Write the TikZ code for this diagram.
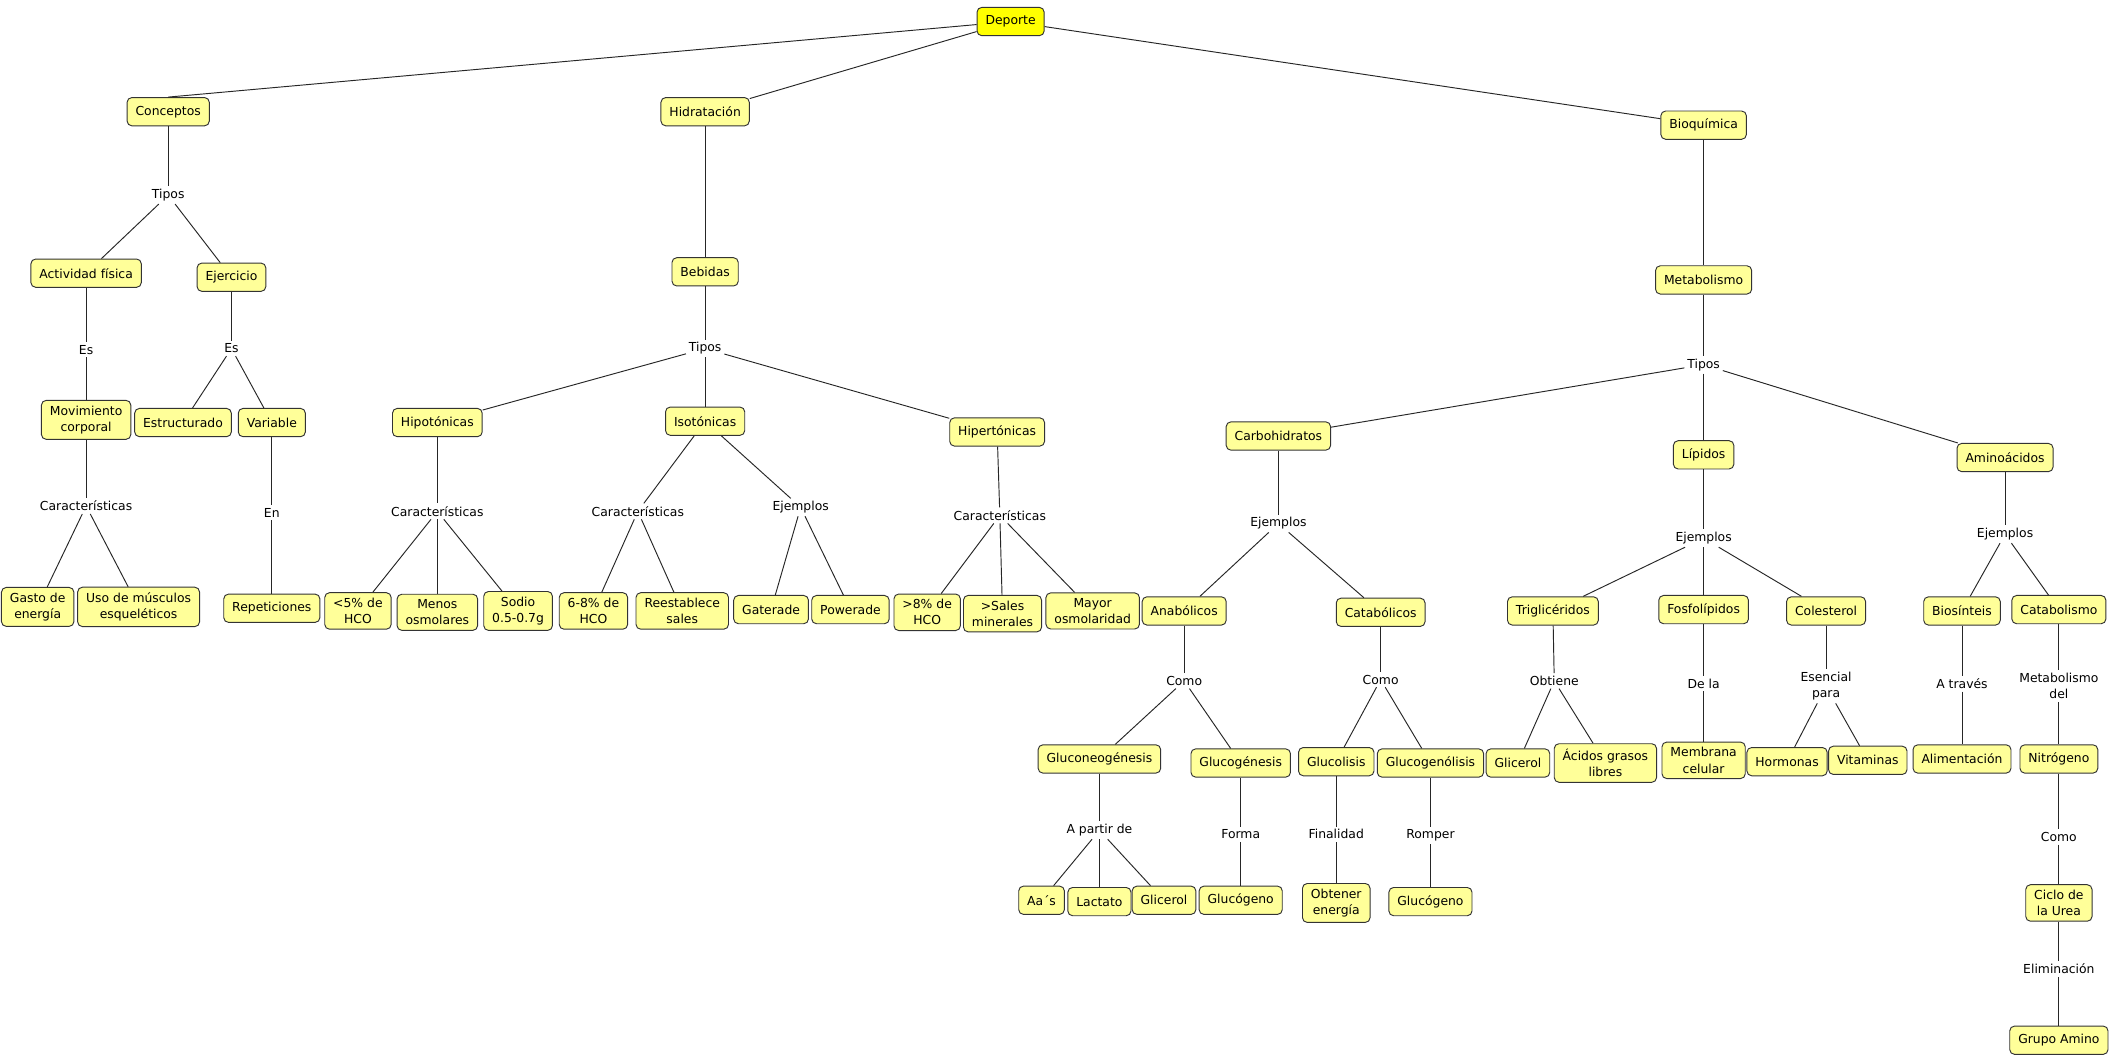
\documentclass[tikz,border=0pt]{standalone}
\usepackage{fontspec}
\setmainfont{DejaVu Sans}
\definecolor{boxfill}{HTML}{FFFF99}
\definecolor{rootfill}{HTML}{FFFF00}
\definecolor{boxline}{HTML}{333333}
\tikzset{
  box/.style={draw=boxline, fill=boxfill, rounded corners=3.5pt, line width=0.7pt,
    font=\fontsize{9.2}{12}\selectfont, align=center, inner xsep=6.3pt, inner ysep=4pt, minimum height=21pt},
  rootbox/.style={box, fill=rootfill},
  lbl/.style={font=\fontsize{9.2}{12}\selectfont, align=center, inner sep=2pt},
  conn/.style={draw=black!85, line width=0.7pt}
}
\begin{document}
\begin{tikzpicture}[x=1pt,y=-1pt]
\useasboundingbox[fill=white] (0,0) rectangle (1568,785);
% root and first level
\node[rootbox] (deporte) at (751,16) {Deporte};
\node[box] (conceptos) at (125,83) {Conceptos};
\node[box] (hidratacion) at (524,83) {Hidratación};
\node[box] (bioquimica) at (1266,93) {Bioquímica};
% Conceptos branch
\node[lbl] (t1) at (125,145) {Tipos};
\node[box] (actividad) at (64,203) {Actividad física};
\node[box] (ejercicio) at (172,206) {Ejercicio};
\node[lbl] (es1) at (64,260) {Es};
\node[lbl] (es2) at (172,259) {Es};
\node[box] (movimiento) at (64,312) {Movimiento\\corporal};
\node[box] (estructurado) at (136,314) {Estructurado};
\node[box] (variable) at (202,314) {Variable};
\node[lbl] (car1) at (64,376) {Características};
\node[lbl] (en) at (202,381) {En};
\node[box] (gasto) at (28,451) {Gasto de\\energía};
\node[box] (uso) at (103,451) {Uso de músculos\\esqueléticos};
\node[box] (repeticiones) at (202,452) {Repeticiones};
% Hidratacion branch
\node[box] (bebidas) at (524,202) {Bebidas};
\node[lbl] (t2) at (524,259) {Tipos};
\node[box] (hipo) at (325,314) {Hipotónicas};
\node[box] (iso) at (524,313) {Isotónicas};
\node[box] (hiper) at (741,321) {Hipertónicas};
\node[lbl] (car2) at (325,380) {Características};
\node[lbl] (car3) at (474,380) {Características};
\node[lbl] (ej1) at (595,377) {Ejemplos};
\node[lbl] (car4) at (743,383) {Características};
\node[box] (c5) at (266,454) {<5\% de\\HCO};
\node[box] (menos) at (325,455) {Menos\\osmolares};
\node[box] (sodio) at (385,454) {Sodio\\0.5-0.7g};
\node[box] (c68) at (441,454) {6-8\% de\\HCO};
\node[box] (reest) at (507,454) {Reestablece\\sales};
\node[box] (gaterade) at (573,453) {Gaterade};
\node[box] (powerade) at (632,453) {Powerade};
\node[box] (c8) at (689,455) {>8\% de\\HCO};
\node[box] (sales) at (745,456) {>Sales\\minerales};
\node[box] (mayor) at (812,454) {Mayor\\osmolaridad};
% Bioquimica branch
\node[box] (metabolismo) at (1266,208) {Metabolismo};
\node[lbl] (t3) at (1266,271) {Tipos};
\node[box] (carbo) at (950,324) {Carbohidratos};
\node[box] (lipidos) at (1266,338) {Lípidos};
\node[box] (amino) at (1490,340) {Aminoácidos};
\node[lbl] (ej2) at (950,389) {Ejemplos};
\node[box] (anab) at (880,454) {Anabólicos};
\node[box] (catab) at (1026,455) {Catabólicos};
\node[lbl] (como1) at (880,506) {Como};
\node[box] (gneo) at (817,564) {Gluconeogénesis};
\node[box] (ggen) at (922,567) {Glucogénesis};
\node[lbl] (apartir) at (817,617) {A partir de};
\node[box] (aas) at (774,669) {Aa´s};
\node[box] (lactato) at (817,670) {Lactato};
\node[box] (glicerol1) at (865,669) {Glicerol};
\node[lbl] (forma) at (922,620) {Forma};
\node[box] (glucogeno1) at (922,669) {Glucógeno};
\node[lbl] (como2) at (1026,505) {Como};
\node[box] (glucolisis) at (993,566) {Glucolisis};
\node[box] (glucogenolisis) at (1063,567) {Glucogenólisis};
\node[lbl] (finalidad) at (993,620) {Finalidad};
\node[lbl] (romper) at (1063,621) {Romper};
\node[box] (obtener) at (993,671) {Obtener\\energía};
\node[box] (glucogeno2) at (1063,670) {Glucógeno};
% Lipidos
\node[lbl] (ej3) at (1266,400) {Ejemplos};
\node[box] (trig) at (1154,454) {Triglicéridos};
\node[box] (fosfo) at (1266,453) {Fosfolípidos};
\node[box] (coles) at (1357,454) {Colesterol};
\node[lbl] (obtiene) at (1155,506) {Obtiene};
\node[box] (glicerol2) at (1128,567) {Glicerol};
\node[box] (acidos) at (1193,567) {Ácidos grasos\\libres};
\node[lbl] (dela) at (1266,508) {De la};
\node[box] (membrana) at (1266,565) {Membrana\\celular};
\node[lbl] (esencial) at (1357,510) {Esencial\\para};
\node[box] (hormonas) at (1328,566) {Hormonas};
\node[box] (vitaminas) at (1388,565) {Vitaminas};
% Aminoacidos
\node[lbl] (ej4) at (1490,397) {Ejemplos};
\node[box] (bios) at (1458,454) {Biosínteis};
\node[box] (catabolismo) at (1530,453) {Catabolismo};
\node[lbl] (atraves) at (1458,508) {A través};
\node[lbl] (metdel) at (1530,510) {Metabolismo\\del};
\node[box] (alimentacion) at (1458,564) {Alimentación};
\node[box] (nitrogeno) at (1530,564) {Nitrógeno};
\node[lbl] (como3) at (1530,622) {Como};
\node[box] (ciclo) at (1530,671) {Ciclo de\\la Urea};
\node[lbl] (elim) at (1530,720) {Eliminación};
\node[box] (grupo) at (1530,773) {Grupo Amino};
% connectors
\draw[conn] (deporte) -- (conceptos.north);
\draw[conn] (deporte) -- (hidratacion);
\draw[conn] (deporte) -- (bioquimica);
\draw[conn] (conceptos) -- (t1);
\draw[conn] (t1) -- (actividad);
\draw[conn] (t1) -- (ejercicio);
\draw[conn] (actividad) -- (es1);
\draw[conn] (es1) -- (movimiento);
\draw[conn] (ejercicio) -- (es2);
\draw[conn] (es2) -- (estructurado);
\draw[conn] (es2) -- (variable);
\draw[conn] (movimiento) -- (car1);
\draw[conn] (car1) -- (gasto);
\draw[conn] (car1) -- (uso);
\draw[conn] (variable) -- (en);
\draw[conn] (en) -- (repeticiones);
\draw[conn] (hidratacion) -- (bebidas);
\draw[conn] (bebidas) -- (t2);
\draw[conn] (t2) -- (hipo);
\draw[conn] (t2) -- (iso);
\draw[conn] (t2) -- (hiper);
\draw[conn] (hipo) -- (car2);
\draw[conn] (car2) -- (c5);
\draw[conn] (car2) -- (menos);
\draw[conn] (car2) -- (sodio);
\draw[conn] (iso) -- (car3);
\draw[conn] (car3) -- (c68);
\draw[conn] (car3) -- (reest);
\draw[conn] (iso) -- (ej1);
\draw[conn] (ej1) -- (gaterade);
\draw[conn] (ej1) -- (powerade);
\draw[conn] (hiper) -- (car4);
\draw[conn] (car4) -- (c8);
\draw[conn] (car4) -- (sales);
\draw[conn] (car4) -- (mayor);
\draw[conn] (bioquimica) -- (metabolismo);
\draw[conn] (metabolismo) -- (t3);
\draw[conn] (t3) -- (carbo);
\draw[conn] (t3) -- (lipidos);
\draw[conn] (t3) -- (amino);
\draw[conn] (carbo) -- (ej2);
\draw[conn] (ej2) -- (anab);
\draw[conn] (ej2) -- (catab);
\draw[conn] (anab) -- (como1);
\draw[conn] (como1) -- (gneo);
\draw[conn] (como1) -- (ggen);
\draw[conn] (gneo) -- (apartir);
\draw[conn] (apartir) -- (aas);
\draw[conn] (apartir) -- (lactato);
\draw[conn] (apartir) -- (glicerol1);
\draw[conn] (ggen) -- (forma);
\draw[conn] (forma) -- (glucogeno1);
\draw[conn] (catab) -- (como2);
\draw[conn] (como2) -- (glucolisis);
\draw[conn] (como2) -- (glucogenolisis);
\draw[conn] (glucolisis) -- (finalidad);
\draw[conn] (finalidad) -- (obtener);
\draw[conn] (glucogenolisis) -- (romper);
\draw[conn] (romper) -- (glucogeno2);
\draw[conn] (lipidos) -- (ej3);
\draw[conn] (ej3) -- (trig);
\draw[conn] (ej3) -- (fosfo);
\draw[conn] (ej3) -- (coles);
\draw[conn] (trig) -- (obtiene);
\draw[conn] (obtiene) -- (glicerol2);
\draw[conn] (obtiene) -- (acidos);
\draw[conn] (fosfo) -- (dela);
\draw[conn] (dela) -- (membrana);
\draw[conn] (coles) -- (esencial);
\draw[conn] (esencial) -- (hormonas);
\draw[conn] (esencial) -- (vitaminas);
\draw[conn] (amino) -- (ej4);
\draw[conn] (ej4) -- (bios);
\draw[conn] (ej4) -- (catabolismo);
\draw[conn] (bios) -- (atraves);
\draw[conn] (atraves) -- (alimentacion);
\draw[conn] (catabolismo) -- (metdel);
\draw[conn] (metdel) -- (nitrogeno);
\draw[conn] (nitrogeno) -- (como3);
\draw[conn] (como3) -- (ciclo);
\draw[conn] (ciclo) -- (elim);
\draw[conn] (elim) -- (grupo);
\end{tikzpicture}
\end{document}
